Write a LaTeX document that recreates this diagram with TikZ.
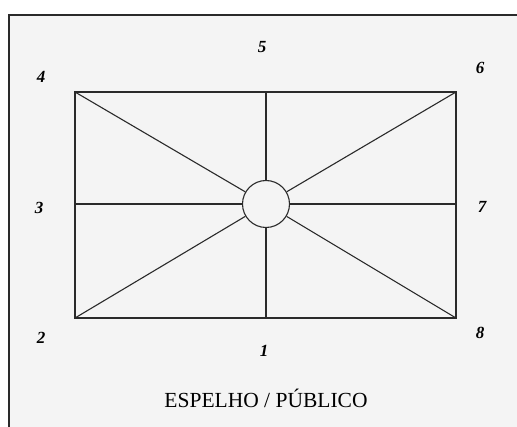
\documentclass[tikz,border=0pt]{standalone}
\usepackage{fontspec}
\setmainfont{Liberation Serif}
\usetikzlibrary{positioning}
\definecolor{paper}{HTML}{F4F4F4}
\definecolor{ink}{HTML}{2A2A2A}

\begin{document}
\begin{tikzpicture}[
    x=1pt, y=-1pt,
    line/.style={draw=ink, line width=1.1pt},
    hub/.style={draw=ink, line width=1.1pt, circle, minimum size=47pt, inner sep=0pt, fill=paper},
    num/.style={font=\fontsize{17}{17}\selectfont\bfseries\itshape, inner sep=0pt},
    caption/.style={font=\fontsize{21.5}{22}\selectfont, inner sep=0pt}
]
\useasboundingbox (0,0) rectangle (517,427);
\clip (0,0) rectangle (517,427);
\draw[draw=ink, line width=2pt, fill=paper] (8.5,15) rectangle (540,450);

% rectangle corners and side midpoints
\coordinate (tl) at (75,92);
\coordinate (tr) at (456,92);
\coordinate (bl) at (75,318);
\coordinate (br) at (456,318);
\coordinate (tm) at (266,92);
\coordinate (bm) at (266,318);
\coordinate (ml) at (75,204);
\coordinate (mr) at (456,204);

\draw[line] (tl) rectangle (br);
\node[hub] (ctr) at (266,204) {};
\foreach \p in {tl,tr,bl,br,tm,bm,ml,mr}
    \draw[line] (\p) -- (ctr);

% numbers
\node[num] (n1) at (264,351) {1};
\node[num] (n2) at (41,338) {2};
\node[num] (n3) at (39,208) {3};
\node[num] (n4) at (41,77) {4};
\node[num] (n5) at (262,47) {5};
\node[num] (n6) at (480,68) {6};
\node[num] (n7) at (482,207) {7};
\node[num] (n8) at (480,333) {8};

\node[caption] (cap) at (266,398) {ESPELHO / PÚBLICO};
\end{tikzpicture}
\end{document}
